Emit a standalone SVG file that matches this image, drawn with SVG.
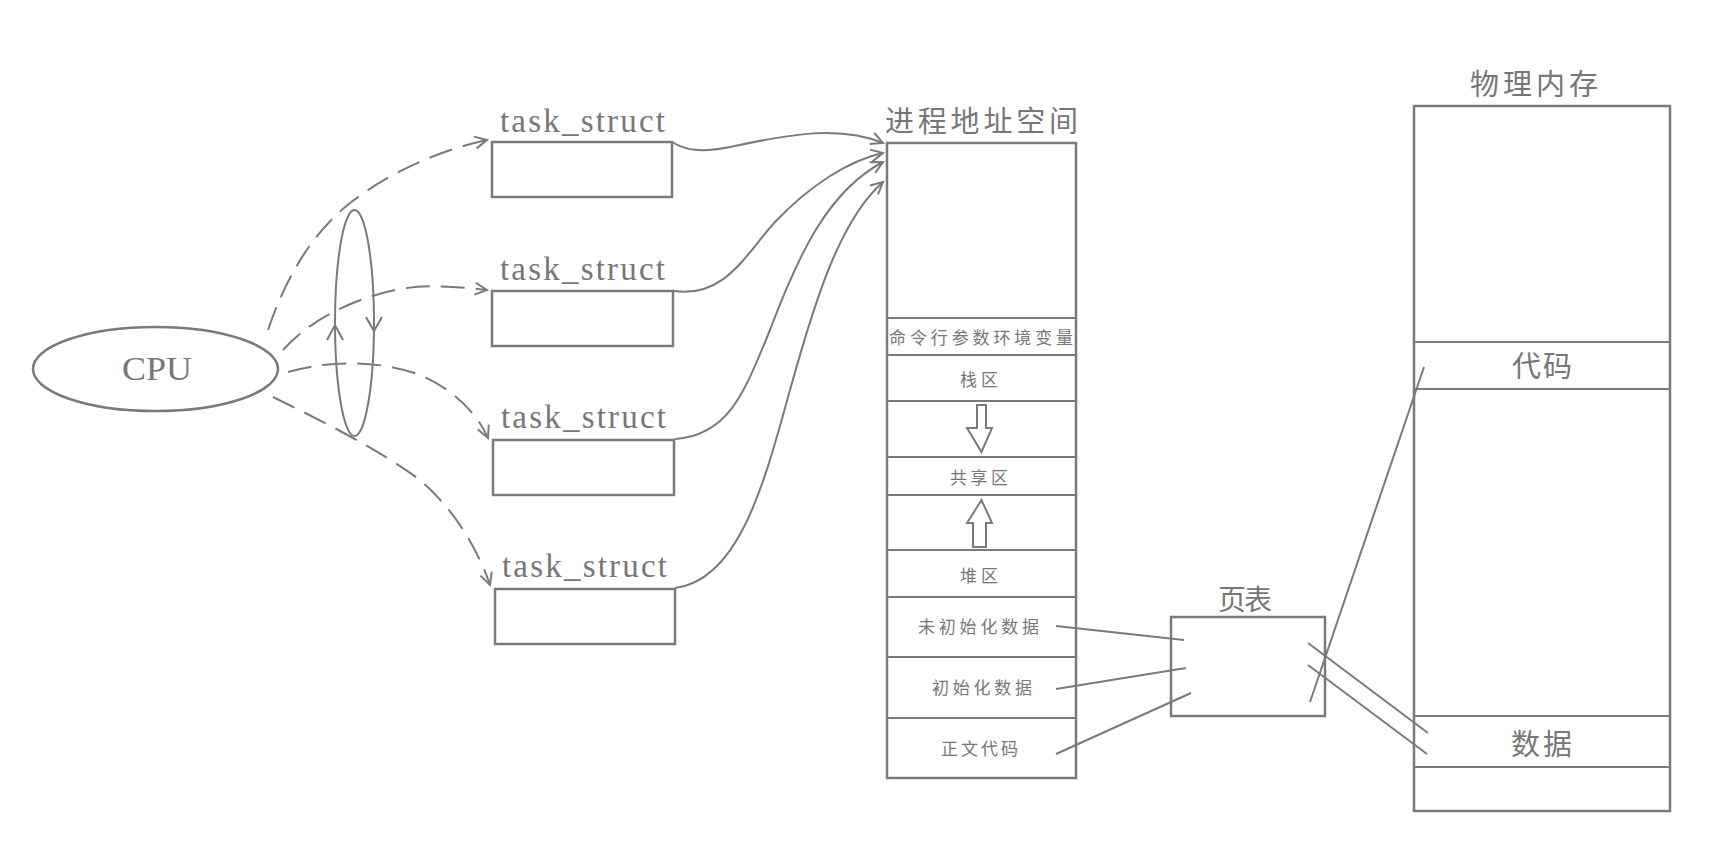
<svg xmlns="http://www.w3.org/2000/svg" width="1735" height="866" viewBox="0 0 1735 866">
<style>
.box{fill:#fff;stroke:#7a7a7a;stroke-width:2.5}
.ln{fill:none;stroke:#7a7a7a;stroke-width:2}
.dash{fill:none;stroke:#7a7a7a;stroke-width:2;stroke-dasharray:24 11}
.lat{font-family:"Liberation Serif",serif;fill:#777}
.ts{font-size:33px}
.cjk{font-family:"Noto Sans CJK SC",sans-serif;fill:#777}
.big{font-size:29px}
.sm{font-size:17px}
</style>
<defs>
<marker id="arr" markerUnits="userSpaceOnUse" markerWidth="16" markerHeight="16" refX="13" refY="7" orient="auto">
<path d="M1,1 L13,7 L1,13" fill="none" stroke="#7a7a7a" stroke-width="2"/>
</marker>
</defs>
<rect width="1735" height="866" fill="#fff"/>

<g id="cpu">
<ellipse cx="155.5" cy="369" rx="122.5" ry="42" class="box"/>
<text class="lat" x="122" y="380" font-size="34" textLength="70" lengthAdjust="spacingAndGlyphs">CPU</text>
</g>

<g id="cycle">
<ellipse cx="354.5" cy="323" rx="19.5" ry="113" class="ln"/>
<path class="ln" d="M327,340 L335,325 L343,340"/>
<path class="ln" d="M366,317 L374,331 L382,317"/>
</g>

<g id="task1">
<text class="lat ts" x="500" y="132" textLength="165">task_struct</text>
<rect x="492" y="142" width="180" height="55" class="box"/>
</g>
<g id="task2">
<text class="lat ts" x="500" y="280" textLength="165">task_struct</text>
<rect x="492" y="291" width="181" height="55" class="box"/>
</g>
<g id="task3">
<text class="lat ts" x="501" y="428" textLength="165">task_struct</text>
<rect x="493" y="440" width="181" height="55" class="box"/>
</g>
<g id="task4">
<text class="lat ts" x="502" y="577" textLength="165">task_struct</text>
<rect x="495" y="589" width="180" height="55" class="box"/>
</g>

<g id="address-space">
<text class="cjk big" x="885" y="132" textLength="193">进程地址空间</text>
<rect x="887" y="143" width="189" height="635" class="box"/>
<path class="ln" stroke-width="2.5" d="M887,318H1076M887,355H1076M887,401H1076M887,457H1076M887,495H1076M887,550H1076M887,597H1076M887,657H1076M887,718H1076"/>
<text class="cjk sm" x="889" y="344" textLength="184">命令行参数环境变量</text>
<text class="cjk sm" x="960" y="386" textLength="38">栈区</text>
<path class="ln" d="M977,405 H986 V428 H992 L981.5,452 L967,428 H977 Z"/>
<text class="cjk sm" x="950" y="484" textLength="58">共享区</text>
<path class="ln" d="M973,547 H986 V523 H992 L981.5,500 L967,523 H973 Z"/>
<text class="cjk sm" x="960" y="582" textLength="38">堆区</text>
<text class="cjk sm" x="918" y="633" textLength="121">未初始化数据</text>
<text class="cjk sm" x="932" y="694" textLength="100">初始化数据</text>
<text class="cjk sm" x="941" y="755" textLength="77">正文代码</text>
</g>

<g id="page-table">
<text class="cjk" x="1218" y="610" font-size="28" textLength="54">页表</text>
<rect x="1171" y="617" width="154" height="99" class="box"/>
</g>

<g id="physical-memory">
<text class="cjk big" x="1470" y="95" textLength="128">物理内存</text>
<rect x="1414" y="106" width="256" height="705" class="box"/>
<path class="ln" stroke-width="2.5" d="M1414,342H1670M1414,389H1670M1414,716H1670M1414,767H1670"/>
<text class="cjk big" x="1512" y="377" textLength="60">代码</text>
<text class="cjk big" x="1511" y="755" textLength="61">数据</text>
</g>

<g id="connectors">
<path class="dash" marker-end="url(#arr)" d="M268,330 C285,280 310,235 350,203 C390,172 440,150 487,140"/>
<path class="dash" marker-end="url(#arr)" d="M283,350 C305,325 345,300 400,289 C430,284 460,287 487,290"/>
<path class="dash" marker-end="url(#arr)" d="M288,372 C330,360 380,360 420,375 C455,390 478,415 488,438"/>
<path class="dash" marker-end="url(#arr)" d="M273,397 C320,420 380,450 420,480 C455,510 478,550 490,585"/>
<path class="ln" marker-end="url(#arr)" d="M672,142 C685,150 700,153 730,147 C790,134 840,125 883,143"/>
<path class="ln" marker-end="url(#arr)" d="M674,291 C725,298 745,255 775,222 C810,185 850,160 883,153"/>
<path class="ln" marker-end="url(#arr)" d="M675,439 C730,435 745,390 770,330 C800,250 830,190 883,162"/>
<path class="ln" marker-end="url(#arr)" d="M675,588 C740,580 765,480 790,390 C815,300 840,220 883,182"/>
<path class="ln" d="M1056,626 L1184,640"/>
<path class="ln" d="M1056,689 L1186,668"/>
<path class="ln" d="M1056,754 L1191,693"/>
<path class="ln" d="M1310,702 L1424,367"/>
<path class="ln" d="M1308,643 L1428,733"/>
<path class="ln" d="M1308,665 L1427,754"/>
</g>
</svg>
